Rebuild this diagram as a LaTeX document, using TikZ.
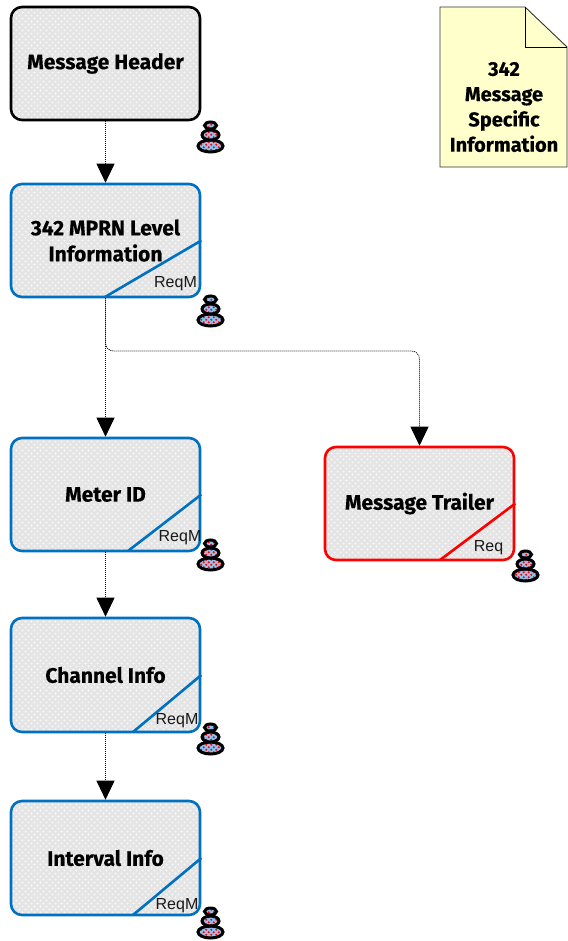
\documentclass[tikz,border=0pt]{standalone}
\usepackage{fontspec}
\setmainfont{Fira Sans}[BoldFeatures={FakeBold=0.35}]
\newfontfamily\labelfont{Liberation Sans}
\usetikzlibrary{arrows.meta,patterns}
\definecolor{boxblue}{HTML}{0070C0}
\definecolor{boxfill}{HTML}{E4E4E4}
\definecolor{notefill}{HTML}{FFFFCC}
\definecolor{stackblue}{HTML}{8FC4F0}
\pgfdeclarepatternformonly{coarsedots}{\pgfqpoint{-1pt}{-1pt}}{\pgfqpoint{7pt}{7pt}}{\pgfqpoint{6pt}{6pt}}{
  \pgfpathcircle{\pgfqpoint{1.5pt}{1.5pt}}{1.1pt}
  \pgfpathcircle{\pgfqpoint{4.5pt}{4.5pt}}{1.1pt}
  \pgfusepath{fill}
}
\pgfdeclarepatternformonly{stackdots}{\pgfqpoint{-1pt}{-1pt}}{\pgfqpoint{6pt}{6pt}}{\pgfqpoint{5pt}{5pt}}{
  \pgfpathcircle{\pgfqpoint{1.25pt}{1.25pt}}{1.15pt}
  \pgfpathcircle{\pgfqpoint{3.75pt}{3.75pt}}{1.15pt}
  \pgfusepath{fill}
}
\tikzset{
  x=1pt,y=-1pt,
  boxbase/.style={minimum width=189pt,minimum height=113pt,rounded corners=11pt,line width=2.6pt,inner sep=2pt,align=center,
    font=\fontsize{21}{26}\selectfont\bfseries,
    preaction={fill=boxfill},preaction={pattern=coarsedots,pattern color=white!70!boxfill}},
  blackbox/.style={boxbase,draw=black},
  bluebox/.style={boxbase,draw=boxblue},
  redbox/.style={boxbase,draw=red},
  flow/.style={line width=0.8pt,dash pattern=on 1pt off 1pt,-{Triangle[width=18pt,length=19pt]}},
  cutline/.style={line width=2.6pt},
  reqlabel/.style={font=\labelfont\fontsize{16}{18}\selectfont,inner sep=0pt,text=black!90},
  notetext/.style={align=center,inner sep=0pt,font=\fontsize{20}{25.3}\selectfont\bfseries},
  stackpart/.style={draw=black,line width=3pt,preaction={fill=stackblue},preaction={pattern=stackdots,pattern color=red}},
  pics/stack/.style={code={
    \path[stackpart] (0,14) ellipse [x radius=12.5pt,y radius=6pt];
    \path[stackpart] (0,3) ellipse [x radius=8.5pt,y radius=5pt];
    \path[stackpart] (0,-6.5) ellipse [x radius=6pt,y radius=3.5pt];
  }},
}
\begin{document}
\begin{tikzpicture}
\useasboundingbox (0,0) rectangle (567,941);
% note
\path[fill=notefill,draw=black!80,line width=0.9pt] (440,7) -- (525,7) -- (567,47) -- (567,167) -- (440,167) -- cycle;
\draw[black,line width=0.9pt] (525,7) -- (525,47) -- (567,47);
\node[notetext] (note) at (504,107) {342\\Message\\Specific\\Information};
% boxes
\node[blackbox] (header) at (105.5,63.5) {\raisebox{-1.5pt}{Message Header}};
\node[bluebox] (mprn) at (105.5,240.5) {342 MPRN Level\\Information};
\node[bluebox] (meter) at (105.5,494.5) {Meter ID};
\node[bluebox,minimum height=114pt] (channel) at (105.5,675) {Channel Info};
\node[bluebox,minimum height=114pt] (interval) at (105.5,858) {Interval Info};
\node[redbox] (trailer) at (419.5,503.5) {\raisebox{-1.5pt}{Message Trailer}};
% diagonals
\draw[cutline,boxblue] (105,297) -- (mprn.east);
\draw[cutline,boxblue] (128,551) -- (meter.east);
\draw[cutline,boxblue] (133,732) -- (channel.east);
\draw[cutline,boxblue] (133,915) -- (interval.east);
\draw[cutline,red] (440,560) -- (trailer.east);
% labels
\node[reqlabel] (r1) at (175.5,284) {ReqM};
\node[reqlabel] (r2) at (180,537.5) {ReqM};
\node[reqlabel] (r3) at (177,721) {ReqM};
\node[reqlabel] (r4) at (177,905.5) {ReqM};
\node[reqlabel] (r5) at (488.5,548) {Req};
% connectors
\draw[flow] (header.south) -- (mprn.north);
\draw[flow] (mprn.south) -- (meter.north);
\draw[flow] (meter.south) -- (channel.north);
\draw[flow] (channel.south) -- (interval.north);
\coordinate (bend) at (105.5,351);
\draw[flow,rounded corners=8pt] (mprn.south) -- (bend) -| (trailer.north);
% stacks
\pic at (210.5,132) {stack};
\pic at (210.5,306) {stack};
\pic at (210.5,550) {stack};
\pic at (210.5,734) {stack};
\pic at (210.5,918) {stack};
\pic at (525.5,561) {stack};
\end{tikzpicture}
\end{document}
